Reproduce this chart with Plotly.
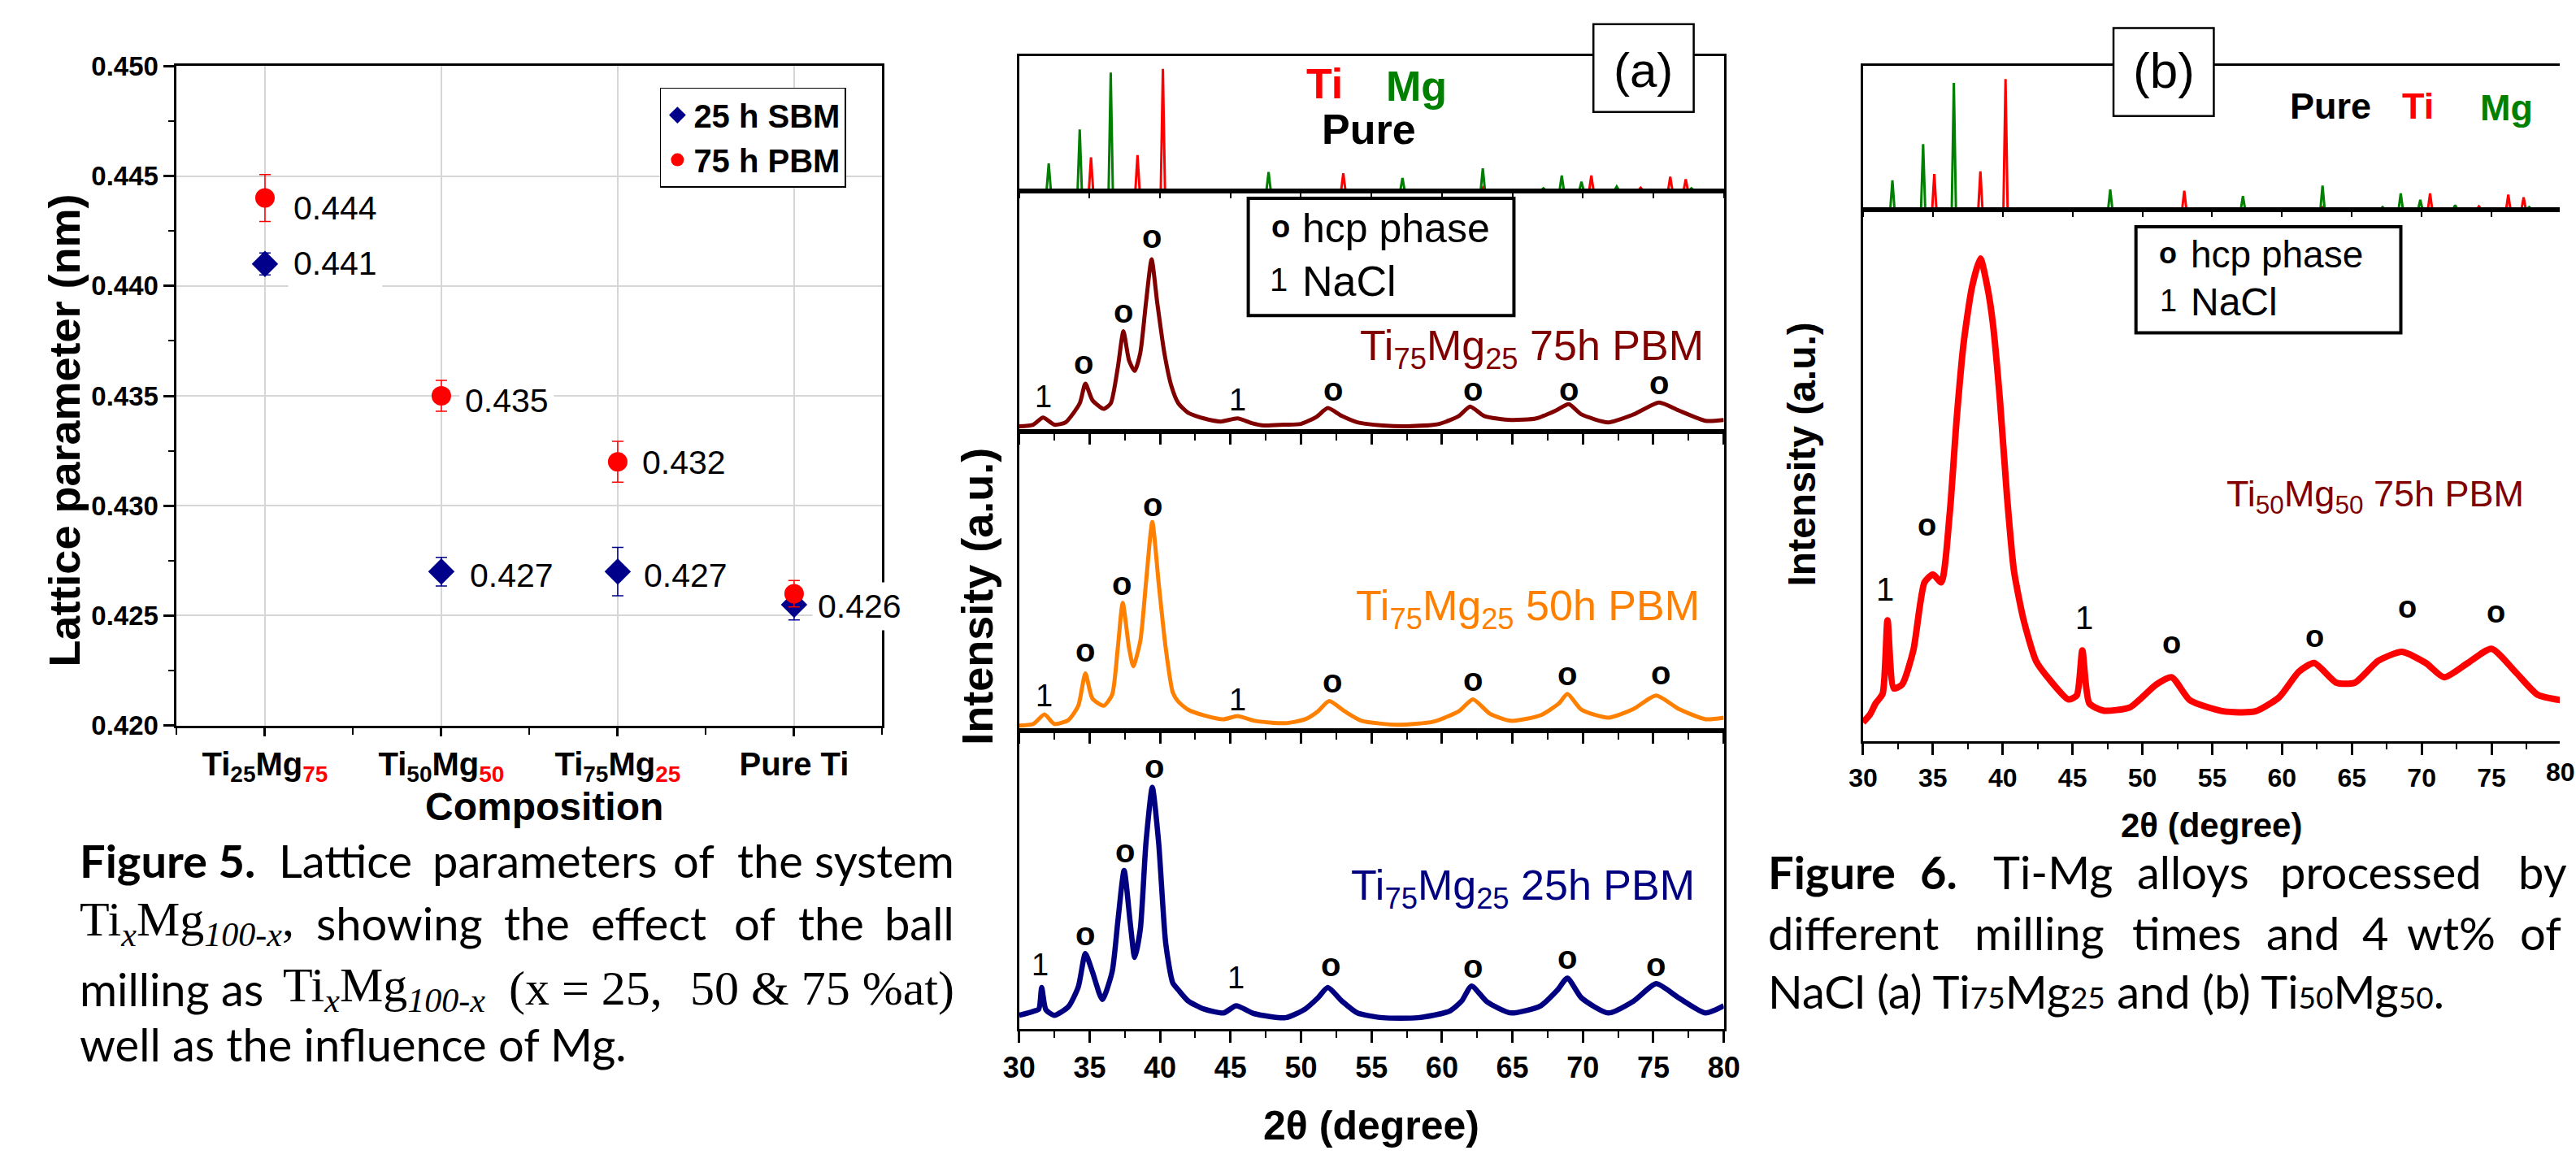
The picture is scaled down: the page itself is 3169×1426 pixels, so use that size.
import plotly.graph_objects as go

W, H = 3169, 1426

# ---------------- Figure 5 : lattice parameters ----------------
comp_pos = [1, 2, 3, 4]
comp_ticktext = [
    'Ti<sub>25</sub>Mg<sub><span style="color:#ff0000">75</span></sub>',
    'Ti<sub>50</sub>Mg<sub><span style="color:#ff0000">50</span></sub>',
    'Ti<sub>75</sub>Mg<sub><span style="color:#ff0000">25</span></sub>',
    'Pure Ti',
]
sbm25_lattice = [0.441, 0.427, 0.427, 0.4255]
sbm25_err = [0.0005, 0.00065, 0.0011, 0.0007]
pbm75_lattice = [0.444, 0.435, 0.432, 0.426]
pbm75_err = [0.00107, 0.0007, 0.00093, 0.0006]
value_labels = ["0.444", "0.441", "0.435", "0.432", "0.427", "0.427", "0.426"]
lattice_ticks = [0.420, 0.425, 0.430, 0.435, 0.440, 0.445, 0.450]

# ---------------- Figure 6 : XRD patterns ----------------
# reference patterns (relative intensity)
ti_2theta = [30.0, 34.95, 35.1, 35.25, 38.25, 38.4, 38.55, 40.05, 40.2, 40.35,
             52.85, 53.0, 53.15, 62.8, 62.9, 63.0, 70.45, 70.6, 70.75, 73.95, 74.1, 74.25,
             76.05, 76.2, 76.35, 77.15, 77.3, 77.45, 80.0]
ti_int = [0, 0, 27, 0, 0, 29, 0, 0, 100, 0,
          0, 14, 0, 0, 2, 0, 0, 12, 0, 0, 2, 0,
          0, 11, 0, 0, 9, 0, 0]
mg_2theta = [30.0, 31.95, 32.1, 32.25, 34.15, 34.3, 34.45, 36.35, 36.5, 36.65,
             47.55, 47.7, 47.85, 57.05, 57.2, 57.35, 62.75, 62.9, 63.05, 67.05, 67.2, 67.35,
             68.35, 68.5, 68.65, 69.75, 69.9, 70.05, 72.25, 72.4, 72.55, 77.55, 77.7, 77.85, 80.0]
mg_int = [0, 0, 22, 0, 0, 50, 0, 0, 97, 0,
          0, 15, 0, 0, 10, 0, 0, 18, 0, 0, 1.5, 0,
          0, 12, 0, 0, 7, 0, 0, 3, 0, 0, 1.5, 0, 0]

# Ti75Mg25 75h PBM
t75_2theta = [30.0, 31.0, 31.7, 32.5, 33.3, 34.3, 34.7, 35.2, 36.0, 36.5, 37.0, 37.4, 37.8, 38.2,
              38.6, 39.0, 39.4, 39.8, 40.3, 40.8, 41.3, 42.0, 43.1, 44.3, 45.5, 46.5, 47.4, 48.8,
              50.0, 51.1, 51.9, 52.9, 54.0, 55.8, 57.6, 59.8, 61.2, 62.0, 63.0, 64.9, 66.7, 68.1,
              69.0, 69.9, 71.8, 73.6, 75.4, 76.8, 78.7, 80.0]
t75_int = [7, 9, 18, 9, 12, 36, 61, 40, 29, 36, 81, 127, 90, 77,
           100, 163, 218, 163, 100, 58, 36, 24, 17, 13, 17, 11, 8, 9,
           10, 19, 30, 20, 12, 8, 7, 10, 20, 32, 20, 15, 17, 27,
           35, 22, 12, 22, 37, 27, 14, 15]
# Ti75Mg25 50h PBM
t50_2theta = [30.0, 31.0, 31.8, 32.5, 33.5, 34.2, 34.7, 35.2, 36.0, 36.6, 37.0, 37.35, 37.8, 38.1,
              38.6, 39.0, 39.45, 39.9, 40.4, 40.9, 41.3, 42.0, 43.1, 44.5, 45.5, 46.7, 48.9, 50.3,
              51.2, 52.0, 53.1, 54.3, 56.9, 59.4, 61.2, 62.2, 63.4, 64.9, 67.0, 68.3, 68.9, 69.9,
              71.8, 73.6, 75.2, 76.8, 78.7, 80.0]
t50_int = [6, 8, 20, 8, 13, 31, 72, 40, 31, 45, 104, 161, 104, 81,
           113, 186, 263, 186, 104, 48, 36, 26, 19, 14, 18, 12, 9, 14,
           24, 37, 24, 12, 7, 11, 24, 39, 21, 12, 19, 34, 46, 26,
           16, 27, 44, 27, 14, 16]
# Ti75Mg25 25h PBM
t25_2theta = [30.0, 31.0, 31.4, 31.6, 31.9, 32.5, 33.5, 34.2, 34.7, 35.2, 35.9, 36.6, 37.0, 37.45,
              37.9, 38.2, 38.6, 39.0, 39.45, 39.9, 40.4, 40.9, 41.3, 42.0, 43.1, 44.5, 45.4, 46.7,
              48.9, 50.3, 51.2, 51.9, 52.9, 54.0, 55.8, 58.3, 60.5, 61.4, 62.1, 63.2, 64.9, 67.0,
              68.2, 68.9, 69.9, 71.8, 73.6, 75.2, 76.8, 78.7, 80.0]
t25_int = [17, 22, 25, 52, 24, 17, 28, 53, 95, 72, 37, 72, 135, 200,
           131, 90, 126, 235, 305, 235, 108, 58, 49, 35, 25, 20, 29, 19,
           14, 25, 39, 52, 35, 20, 14, 14, 22, 35, 54, 34, 20, 29,
           49, 64, 39, 20, 35, 57, 39, 20, 29]
# Ti50Mg50 75h PBM
tb_2theta = [30.0, 30.5, 30.9, 31.4, 31.75, 32.2, 32.8, 33.6, 34.4, 35.0, 35.6, 36.2, 36.7, 37.2,
             37.8, 38.4, 38.9, 39.3, 39.8, 40.3, 40.8, 41.5, 42.4, 43.4, 44.7, 45.3, 45.7, 46.2,
             47.2, 49.1, 51.0, 52.1, 53.4, 55.8, 58.1, 59.8, 61.2, 62.3, 63.9, 65.2, 66.9, 68.6,
             70.3, 71.6, 73.3, 75.0, 76.7, 78.3, 80.0]
tb_int = [24, 34, 48, 60, 153, 67, 72, 115, 201, 211, 201, 287, 407, 503,
          574, 610, 574, 527, 431, 311, 216, 153, 101, 77, 53, 58, 115, 48,
          39, 43, 72, 81, 52, 38, 38, 56, 88, 99, 74, 74, 102, 113,
          99, 81, 99, 117, 88, 59, 52]

# phase markers: (2theta, height) per pattern
hcp_t75 = [(34.6, 88), (37.4, 152), (39.4, 247), (52.3, 54), (62.2, 54), (69.0, 54), (75.4, 62)]
nacl_t75 = [(31.7, 44), (45.5, 40)]
hcp_t50 = [(34.7, 101), (37.3, 185), (39.5, 285), (52.2, 62), (62.2, 64), (68.9, 71), (75.5, 72)]
nacl_t50 = [(31.8, 44), (45.5, 39)]
hcp_t25 = [(34.7, 120), (37.5, 225), (39.6, 331), (52.1, 81), (62.2, 79), (68.9, 90), (75.2, 81)]
nacl_t25 = [(31.5, 81), (45.4, 64)]
hcp_b = [(34.55, 273), (52.07, 124), (62.35, 133), (68.98, 170), (75.3, 163)]
nacl_b = [(31.58, 192), (45.84, 156)]

# ---------------- styling ----------------
NARROW = "Liberation Sans Narrow, Arial Narrow, Liberation Sans, Arial, sans-serif"
ARIAL = "Liberation Sans, Arial, Helvetica, sans-serif"
CAL = "Lato, Carlito, Calibri, sans-serif"
TIMES = "Liberation Serif, Times New Roman, serif"
BLUE = "#00008b"
RED = "#ff0000"
MAROON = "#800000"
ORANGE = "#ff8000"
NAVY = "#000080"
GREEN = "#008000"


def px(x):
    return x / W


def py(y):
    return 1 - y / H


fig = go.Figure()

# Figure 5 traces
fig.add_trace(go.Scatter(
    x=comp_pos, y=sbm25_lattice, mode="markers", name="25 h SBM",
    marker=dict(symbol="diamond", size=25, color=BLUE),
    error_y=dict(type="data", array=sbm25_err, color=BLUE, thickness=1.5, width=7),
    xaxis="x", yaxis="y"))
fig.add_trace(go.Scatter(
    x=comp_pos, y=pbm75_lattice, mode="markers", name="75 h PBM",
    marker=dict(symbol="circle", size=24, color=RED),
    error_y=dict(type="data", array=pbm75_err, color=RED, thickness=1.5, width=7),
    xaxis="x", yaxis="y"))

# Figure 6 (a)
fig.add_trace(go.Scatter(x=ti_2theta, y=ti_int, mode="lines", line=dict(color=RED, width=3),
                         showlegend=False, xaxis="x2", yaxis="y2"))
fig.add_trace(go.Scatter(x=mg_2theta, y=mg_int, mode="lines", line=dict(color=GREEN, width=3),
                         showlegend=False, xaxis="x2", yaxis="y2"))
fig.add_trace(go.Scatter(x=t75_2theta, y=t75_int, mode="lines",
                         line=dict(color=MAROON, width=5, shape="spline", smoothing=0.6),
                         showlegend=False, xaxis="x3", yaxis="y3"))
fig.add_trace(go.Scatter(x=t50_2theta, y=t50_int, mode="lines",
                         line=dict(color=ORANGE, width=5, shape="spline", smoothing=0.6),
                         showlegend=False, xaxis="x4", yaxis="y4"))
fig.add_trace(go.Scatter(x=t25_2theta, y=t25_int, mode="lines",
                         line=dict(color=NAVY, width=6.5, shape="spline", smoothing=0.6),
                         showlegend=False, xaxis="x5", yaxis="y5"))
# Figure 6 (b)
fig.add_trace(go.Scatter(x=ti_2theta, y=ti_int, mode="lines", line=dict(color=RED, width=3),
                         showlegend=False, xaxis="x6", yaxis="y6"))
fig.add_trace(go.Scatter(x=mg_2theta, y=mg_int, mode="lines", line=dict(color=GREEN, width=3),
                         showlegend=False, xaxis="x6", yaxis="y6"))
fig.add_trace(go.Scatter(x=tb_2theta, y=tb_int, mode="lines",
                         line=dict(color=RED, width=8, shape="spline", smoothing=0.6),
                         showlegend=False, xaxis="x7", yaxis="y7"))

frame = dict(showline=True, linecolor="black", linewidth=3, mirror=True, zeroline=False, showgrid=False)

# left chart axes
fig.update_layout(
    xaxis=dict(domain=[px(200), px(1079)], anchor="y", range=[0.5, 4.5],
               tickmode="array", tickvals=comp_pos, ticktext=comp_ticktext,
               ticks="outside", ticklen=10, tickwidth=2.5, tickcolor="black",
               minor=dict(tickvals=[0.5, 1.5, 2.5, 3.5, 4.5], ticks="outside", ticklen=8,
                          tickwidth=2, tickcolor="black"),
               showgrid=True, gridcolor="#d6d6d6", gridwidth=1.5,
               showline=True, linecolor="black", linewidth=3, mirror=True, zeroline=False,
               tickfont=dict(family=NARROW, size=40, color="black", weight="bold")),
    yaxis=dict(domain=[py(898), py(65)], anchor="x", range=[0.420, 0.450],
               tickmode="array", tickvals=lattice_ticks, tickformat=".3f",
               ticks="outside", ticklen=13, tickwidth=2.5, tickcolor="black",
               minor=dict(dtick=0.0025, tick0=0.42, ticks="outside", ticklen=7, tickwidth=2,
                          tickcolor="black"),
               showgrid=True, gridcolor="#d6d6d6", gridwidth=1.5,
               showline=True, linecolor="black", linewidth=3, mirror=True, zeroline=False,
               tickfont=dict(family=NARROW, size=33, color="black", weight="bold")),
)

XA = [px(1249.5), px(2127.5)]
panels_a = [("2", 52, 223, [-0.85, 110.9]), ("3", 223, 527, [0, 304]),
            ("4", 527, 904, [0, 377]), ("5", 904, 1281, [0, 377])]
for ax, top, bot, yr in panels_a:
    xa = dict(domain=XA, anchor="y" + ax, range=[30, 80], tick0=30, dtick=5, ticks="outside",
              tickcolor="black", showticklabels=(ax == "5"), **frame)
    if ax == "2":
        xa.update(ticklen=6, tickwidth=2)
    else:
        xa.update(ticklen=14 if ax == "5" else 13, tickwidth=2.5,
                  minor=dict(dtick=2.5, tick0=30, ticks="outside", ticklen=8, tickwidth=2,
                             tickcolor="black"))
    if ax == "5":
        xa.update(tickfont=dict(family=ARIAL, size=36, color="black", weight="bold"))
    ya = dict(domain=[py(bot), py(top)], anchor="x" + ax, range=yr, ticks="",
              showticklabels=False, **frame)
    fig.layout["xaxis" + ax] = xa
    fig.layout["yaxis" + ax] = ya

XB = [px(2301), 1.0]
xb_range = [30, 30 + (W - 2301) / 17.4]
frame_b = dict(showline=True, linecolor="black", linewidth=3, zeroline=False, showgrid=False)
fig.layout["xaxis6"] = dict(domain=XB, anchor="y6", range=xb_range, tick0=30, dtick=5, ticks="outside",
                            ticklen=6, tickwidth=2, tickcolor="black", showticklabels=False,
                            mirror=True, **frame_b)
fig.layout["yaxis6"] = dict(domain=[py(246), py(65)], anchor="x6", range=[-0.3, 110], ticks="",
                            showticklabels=False, **frame_b)
fig.layout["xaxis7"] = dict(domain=XB, anchor="y7", range=xb_range, tick0=30, dtick=5, ticks="outside",
                            ticklen=14, tickwidth=2.5, tickcolor="black", mirror=True,
                            minor=dict(dtick=2.5, tick0=30, ticks="outside", ticklen=7, tickwidth=2,
                                       tickcolor="black"),
                            tickfont=dict(family=ARIAL, size=32, color="black", weight="bold"),
                            **frame_b)
fig.layout["yaxis7"] = dict(domain=[py(918), py(246)], anchor="x7", range=[0, 672], ticks="",
                            showticklabels=False, **frame_b)

annotations = []
shapes = []


def ann(text, x, y, size, family=ARIAL, color="black", xanchor="center", yanchor="middle",
        xref="paper", yref="paper", **kw):
    if xref == "paper":
        x = px(x)
    if yref == "paper":
        y = py(y)
    d = dict(text=text, x=x, y=y, xref=xref, yref=yref, xanchor=xanchor, yanchor=yanchor,
             showarrow=False, font=dict(family=family, size=size, color=color))
    d.update(kw)
    annotations.append(d)


# ---- Figure 5 annotations ----
label_x = [1.13, 1.13, 2.10, 3.106, 2.128, 3.114, 4.10]
label_y = [0.44355, 0.44103, 0.43477, 0.43196, 0.42684, 0.42684, 0.42544]
for t, lx, ly in zip(value_labels, label_x, label_y):
    ann(t, lx, ly, 41, NARROW, xanchor="left", xref="x", yref="y", bgcolor="white", borderpad=6)
ann("<b>Lattice parameter (nm)</b>", 60, 525, 54, ARIAL, textangle=-90)
ann("<b>Composition</b>", 658, 1000, 48, NARROW)

# Caption Figure 5
CS = 56
ann("<b>Figure 5.</b>", 77, 1068, CS, CAL, xanchor="left")
for wd, wx in zip(["Lattice", "parameters", "of", "the"], [325, 517, 816, 896]):
    ann(wd, wx, 1068, CS, CAL, xanchor="left")
ann("system", 1171, 1068, CS, CAL, xanchor="right")
ann("Ti<sub><i>x</i></sub>Mg<sub><i>100-x</i></sub>,", 77, 1147, 60, TIMES, xanchor="left")
for wd, wx in zip(["showing", "the", "effect", "of", "the"], [372, 606, 714, 892, 972]):
    ann(wd, wx, 1147, CS, CAL, xanchor="left")
ann("ball", 1171, 1147, CS, CAL, xanchor="right")
ann("milling as", 77, 1230, CS, CAL, xanchor="left")
ann("Ti<sub><i>x</i></sub>Mg<sub><i>100-x</i></sub>", 330, 1230, 60, TIMES, xanchor="left")
ann("(x = 25,", 612, 1230, 60, TIMES, xanchor="left")
ann("50 &amp; 75 %at)", 1171, 1230, 60, TIMES, xanchor="right")
ann("well as the influence of Mg.", 77, 1300, CS, CAL, xanchor="left")

# ---- Figure 6 (a) annotations ----
ann('<b><span style="color:#ff0000">Ti</span></b>', 1630, 87, 52)
ann('<b><span style="color:#008000">Mg</span></b>', 1745, 90, 52)
ann("<b>Pure</b>", 1685, 145, 52)
ann("(a)", 2027, 70, 60)
shapes.append(dict(type="rect", xref="paper", yref="paper", x0=px(1965), x1=px(2090), y0=py(123), y1=py(12),
                   line=dict(color="black", width=2.5), fillcolor="white", layer="above"))
shapes.append(dict(type="rect", xref="paper", yref="paper", x0=px(1535), x1=px(1866), y0=py(380), y1=py(232),
                   line=dict(color="black", width=4), fillcolor="white", layer="above"))
ann("<b>o</b>", 1575, 268, 38)
ann("hcp phase", 1600, 270, 50, xanchor="left")
ann("1", 1573, 335, 40)
ann("NaCl", 1600, 337, 52, xanchor="left")

ann("Ti<sub>75</sub>Mg<sub>25</sub> 75h PBM", 1888, 422, 52, color=MAROON)
ann("Ti<sub>75</sub>Mg<sub>25</sub> 50h PBM", 1883, 750, 52, color=ORANGE)
ann("Ti<sub>75</sub>Mg<sub>25</sub> 25h PBM", 1877, 1104, 52, color=NAVY)

for ax, hcp, nacl in [("3", hcp_t75, nacl_t75), ("4", hcp_t50, nacl_t50), ("5", hcp_t25, nacl_t25)]:
    for tt, hh in hcp:
        ann("<b>o</b>", tt, hh, 40, xref="x" + ax, yref="y" + ax)
    for tt, hh in nacl:
        ann("1", tt, hh, 38, xref="x" + ax, yref="y" + ax)

ann("<b>Intensity (a.u.)</b>", 1197, 735, 54, textangle=-90)
ann("<b>2θ (degree)</b>", 1688, 1403, 50)

# ---- Figure 6 (b) annotations ----
ann("<b>Pure</b>", 2883, 115, 45)
ann('<b><span style="color:#ff0000">Ti</span></b>', 2992, 115, 45)
ann('<b><span style="color:#008000">Mg</span></b>', 3103, 118, 45)
ann("(b)", 2676, 70, 62)
shapes.append(dict(type="rect", xref="paper", yref="paper", x0=px(2613), x1=px(2738), y0=py(128), y1=py(17),
                   line=dict(color="black", width=2.5), fillcolor="white", layer="above"))
shapes.append(dict(type="rect", xref="paper", yref="paper", x0=px(2641), x1=px(2971), y0=py(402), y1=py(268),
                   line=dict(color="black", width=4), fillcolor="white", layer="above"))
ann("<b>o</b>", 2681, 301, 36)
ann("hcp phase", 2707, 303, 46, xanchor="left")
ann("1", 2681, 361, 38)
ann("NaCl", 2707, 363, 48, xanchor="left")
ann("Ti<sub>50</sub>Mg<sub>50</sub> 75h PBM", 2939, 608, 45, color=MAROON)
for tt, hh in hcp_b:
    ann("<b>o</b>", tt, hh, 38, xref="x7", yref="y7")
for tt, hh in nacl_b:
    ann("1", tt, hh, 40, xref="x7", yref="y7")
ann("<b>80</b>", 3150, 957, 32, xanchor="left")
ann("<b>Intensity (a.u.)</b>", 2225, 555, 48, textangle=-90)
ann("<b>2θ (degree)</b>", 2735, 1024, 42)

# Caption Figure 6
for wd, wx in zip(["<b>Figure</b>", "<b>6.</b>", "Ti-Mg", "alloys", "processed", "by"],
                  [2181, 2370, 2461, 2640, 2819, 3115]):
    ann(wd, wx, 1083, CS, CAL, xanchor="left")
for wd, wx in zip(["different", "milling", "times", "and", "4", "wt%", "of"],
                  [2181, 2438, 2634, 2801, 2921, 2977, 3117]):
    ann(wd, wx, 1160, CS, CAL, xanchor="left")
sm = '<span style="font-size:37px">'
ann(f"NaCl (a) Ti{sm}75</span>Mg{sm}25</span> and (b) Ti{sm}50</span>Mg{sm}50</span>.",
    2181, 1233, CS, CAL, xanchor="left")

fig.update_layout(
    width=W, height=H, autosize=False,
    margin=dict(l=0, r=0, t=0, b=0),
    paper_bgcolor="white", plot_bgcolor="white",
    showlegend=True,
    legend=dict(x=px(802), y=py(92), xanchor="left", yanchor="top",
                bgcolor="white", bordercolor="black", borderwidth=1.5,
                font=dict(family=NARROW, size=40, color="black", weight="bold"),
                itemsizing="trace", tracegroupgap=0),
    annotations=annotations,
    shapes=shapes,
)

fig.write_html("out.html", config={"displayModeBar": False},
               post_script="document.body.style.margin='0';document.body.style.overflow='hidden';")
